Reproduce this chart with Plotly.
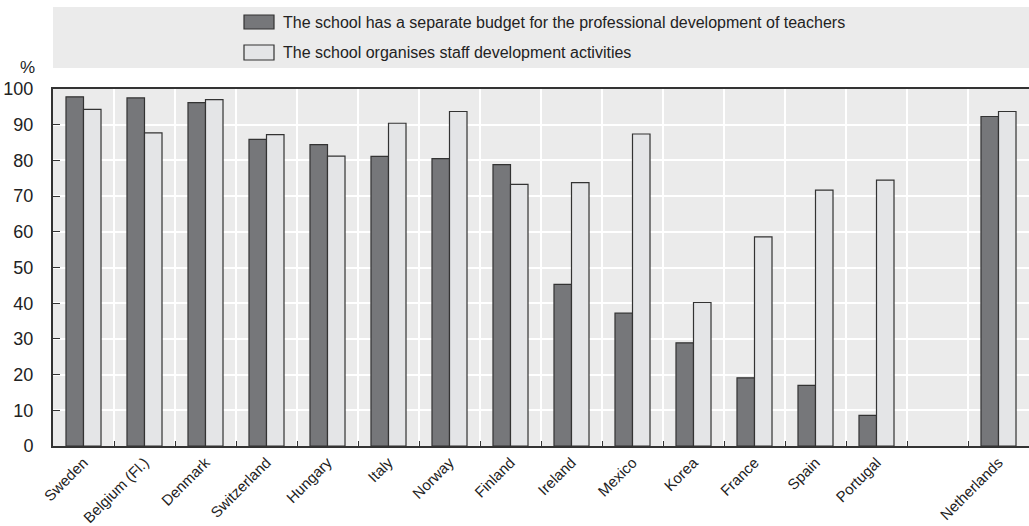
import plotly.graph_objects as go

countries = ["Sweden", "Belgium (Fl.)", "Denmark", "Switzerland", "Hungary", "Italy",
             "Norway", "Finland", "Ireland", "Mexico", "Korea", "France", "Spain",
             "Portugal", " ", "Netherlands"]
budget = [97.8, 97.5, 96.2, 85.9, 84.4, 81.1, 80.5, 78.8, 45.3, 37.2, 28.9, 19.1, 17.0, 8.6, None, 92.3]
activities = [94.3, 87.7, 97.0, 87.2, 81.2, 90.4, 93.7, 73.3, 73.8, 87.4, 40.2, 58.6, 71.7, 74.5, None, 93.7]
series_names = ["The school has a separate budget for the professional development of teachers",
                "The school organises staff development activities"]
y_ticks = [0, 10, 20, 30, 40, 50, 60, 70, 80, 90, 100]

FONT = "Liberation Sans Narrow, Arial Narrow, Liberation Sans, Arial, sans-serif"
DARK = "#76777a"
LIGHT = "#e4e5e7"
EDGE = "#333333"

W, H = 1029, 526
L, R, T, B = 53, 0, 89, 80
pw, ph = W - L - R, H - T - B

def px_x(x):
    return (x - L) / pw

def px_y(y):
    return (H - B - y) / ph

fig = go.Figure()
fig.add_trace(go.Bar(x=countries, y=budget, name=series_names[0],
                     marker=dict(color=DARK, line=dict(color=EDGE, width=1.2))))
fig.add_trace(go.Bar(x=countries, y=activities, name=series_names[1],
                     marker=dict(color=LIGHT, line=dict(color=EDGE, width=1.2))))

shapes = [
    dict(type="rect", xref="paper", yref="paper", x0=0, x1=1, y0=px_y(68), y1=px_y(7),
         fillcolor="#ebebeb", line=dict(width=0), layer="below"),
    dict(type="rect", xref="paper", yref="paper", x0=px_x(244), x1=px_x(274), y0=px_y(29), y1=px_y(15),
         fillcolor=DARK, line=dict(color=EDGE, width=1.2)),
    dict(type="rect", xref="paper", yref="paper", x0=px_x(244), x1=px_x(274), y0=px_y(60), y1=px_y(45),
         fillcolor=LIGHT, line=dict(color=EDGE, width=1.2)),
]
annotations = [
    dict(text=series_names[0], xref="paper", yref="paper", x=px_x(281), y=px_y(22),
         xanchor="left", yanchor="middle", showarrow=False, font=dict(family=FONT, size=16, color="#222")),
    dict(text=series_names[1], xref="paper", yref="paper", x=px_x(281), y=px_y(52.5),
         xanchor="left", yanchor="middle", showarrow=False, font=dict(family=FONT, size=16, color="#222")),
    dict(text="%", xref="paper", yref="paper", x=px_x(37), y=px_y(67),
         xanchor="right", yanchor="middle", showarrow=False, font=dict(family=FONT, size=17, color="#222")),
]

fig.update_layout(
    width=W, height=H,
    margin=dict(l=L, r=R, t=T, b=B, pad=0),
    paper_bgcolor="white", plot_bgcolor="#ebebeb",
    barmode="group", bargap=0.426, bargroupgap=0,
    showlegend=False,
    shapes=shapes, annotations=annotations,
    font=dict(family=FONT, size=16, color="#222"),
)
fig.update_xaxes(type="category", range=[-0.5, 15.5], tickson="boundaries",
                 ticks="inside", ticklen=5, tickcolor="#333", tickwidth=1,
                 showgrid=True, gridcolor="white", gridwidth=1.5,
                 showline=True, linecolor="#333", linewidth=2, mirror=True,
                 tickangle=-45, tickfont=dict(family=FONT, size=15, color="#222"))
fig.update_yaxes(range=[0, 100], tickvals=y_ticks, ticks="inside", ticklen=7,
                 tickcolor="#333", tickwidth=1, ticklabelstandoff=14,
                 showgrid=True, gridcolor="white", gridwidth=1.5,
                 showline=True, linecolor="#333", linewidth=2, zeroline=False,
                 tickfont=dict(family=FONT, size=18, color="#222"))

fig.write_html("out.html", config={"displayModeBar": False},
               post_script="document.body.style.margin='0';document.body.style.overflow='hidden';")
